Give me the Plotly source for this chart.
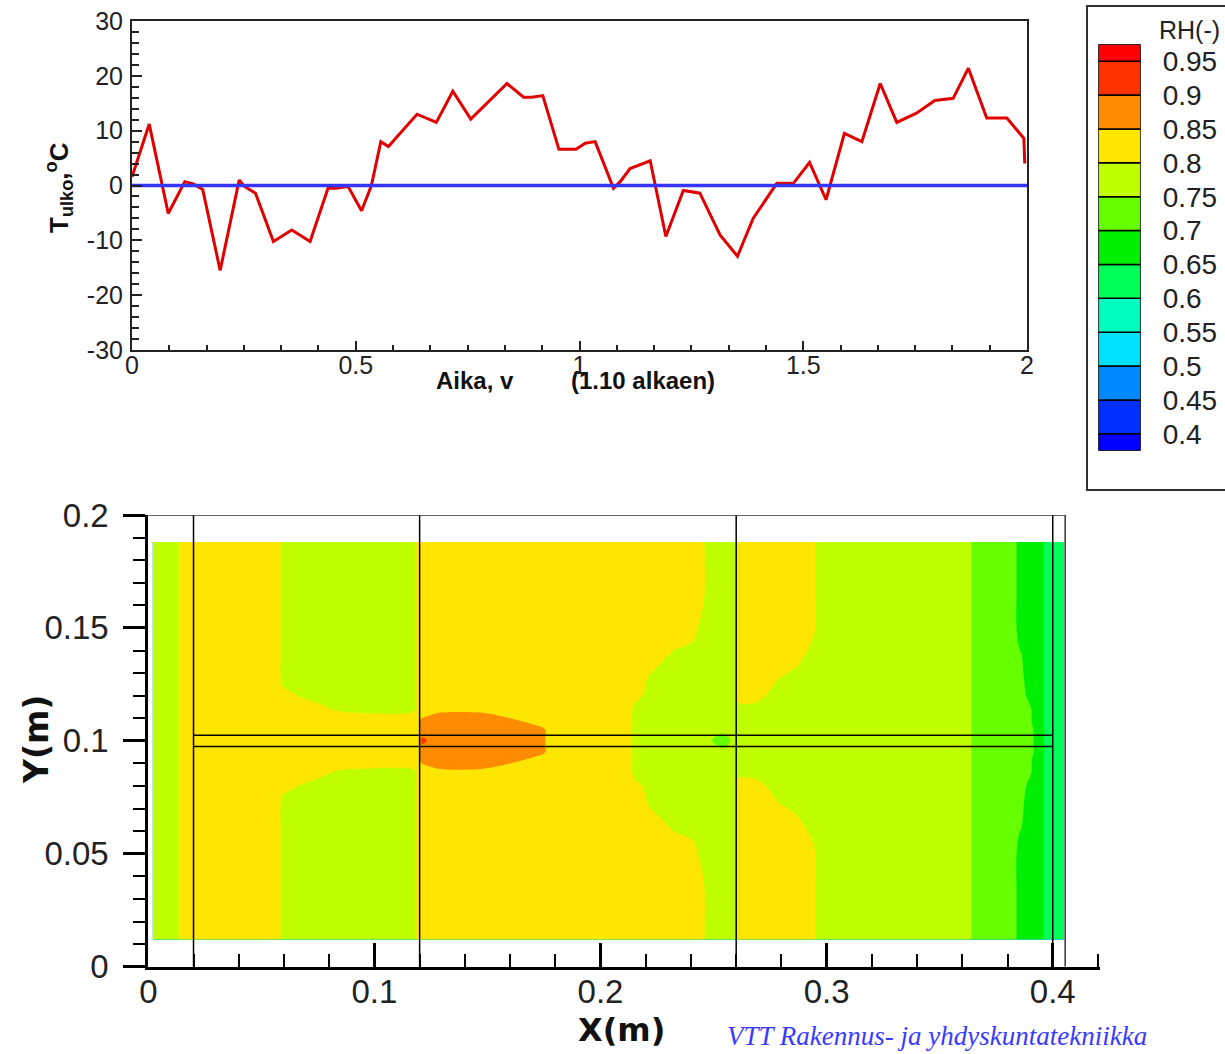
import plotly.graph_objects as go

W, H = 1225, 1054


def px(x):
    return x / W


def py(y):
    return 1 - y / H


# ---------------- Top chart: outdoor temperature ----------------
t_years = [0, 0.0385, 0.081, 0.118, 0.137, 0.158, 0.197, 0.2395, 0.252, 0.276,
           0.316, 0.357, 0.398, 0.438, 0.456, 0.483, 0.513, 0.535, 0.556, 0.573,
           0.637, 0.680, 0.717, 0.757, 0.838, 0.875, 0.894, 0.918, 0.954, 0.992,
           1.013, 1.035, 1.076, 1.091, 1.113, 1.158, 1.193, 1.232, 1.269, 1.314,
           1.353, 1.388, 1.441, 1.478, 1.514, 1.551, 1.592, 1.631, 1.672, 1.709,
           1.753, 1.794, 1.835, 1.869, 1.910, 1.955, 1.993, 1.995]
T_out = [1.6, 11.2, -5.1, 0.7, 0.3, -0.7, -15.5, 1.0, -0.2, -1.4,
         -10.2, -8.1, -10.2, -0.5, -0.5, -0.2, -4.6, 0.0, 8.0, 7.1,
         13.0, 11.5, 17.2, 12.1, 18.6, 16.1, 16.1, 16.4, 6.6, 6.6,
         7.7, 8.0, -0.5, 0.7, 3.1, 4.5, -9.3, -0.9, -1.4, -9.0,
         -12.9, -6.0, 0.4, 0.4, 4.2, -2.6, 9.5, 8.0, 18.6, 11.5,
         13.2, 15.5, 15.9, 21.4, 12.3, 12.3, 8.6, 4.0]
zero_t = [0, 2]
zero_T = [0, 0]
temp_ticks = [-30, -20, -10, 0, 10, 20, 30]
temp_labels = ["-30", "-20", "-10", "0", "10", "20", "30"]
time_ticks = [0, 0.5, 1, 1.5, 2]
time_labels = ["0", "0.5", "1", "1.5", "2"]

# ---------------- Bottom chart: RH field ----------------
x_nodes = [0.002, 0.0125, 0.0145, 0.0575, 0.0595, 0.064, 0.075, 0.09, 0.117, 0.119,
           0.121, 0.129, 0.147, 0.16, 0.172, 0.179, 0.213, 0.215, 0.222, 0.232,
           0.241, 0.245, 0.247, 0.254, 0.259, 0.261, 0.268, 0.278, 0.287, 0.2935,
           0.2965, 0.363, 0.365, 0.383, 0.385, 0.3895, 0.3935, 0.395, 0.397, 0.405]
y_nodes = [0.012, 0.035, 0.05, 0.062, 0.072, 0.08, 0.0865, 0.0885, 0.0915, 0.095,
           0.1, 0.105, 0.1085, 0.1115, 0.1135, 0.12, 0.128, 0.138, 0.15, 0.165, 0.188]
# one character per node (RH band)
rh_rows = [
    "GGYYGGGGGYYYYYYYYYYYYYGGGYYYYYGGLLMMMMNN",  # 0.012
    "GGYYGGGGGYYYYYYYYYYYYYGGGYYYYYGGLLMMMMNN",  # 0.035
    "GGYYGGGGGYYYYYYYYYYYYGGGGYYYYYGGLLMMMMNN",  # 0.05
    "GGYYGGGGGYYYYYYYYYYgGGGGGYYYYGGGLLaMMMNN",  # 0.062
    "GGYYGGGGGYYYYYYYYYgGGGGGGYYyGGGGLLLMMMNN",  # 0.072
    "GGYYYyGGGYYYYYYYYYGGGGGGGYYGGGGGLLLbMMNN",  # 0.08
    "GGYYYYYGGYYYYYYYYGGGGGGGGGGGGGGGLLLaMMNN",  # 0.0865
    "GGYYYYYYYYYOOYYYYGGGGGGGGGGGGGGGLLLaMMNN",  # 0.0885
    "GGYYYYYYYYOOOOYYYGGGGGGGGGGGGGGGLLLaMMNN",  # 0.0915
    "GGYYYYYYYYOOOOOYYGGGGGGGGGGGGGGGLLLLMMNN",  # 0.095
    "GGYYYYYYYYrOOOOYYGGGGGGlGGGGGGGGLLLLMMNN",  # 0.1
    "GGYYYYYYYYOOOOOYYGGGGGGGGGGGGGGGLLLLMMNN",  # 0.105
    "GGYYYYYYYYOOOOYYYGGGGGGGGGGGGGGGLLLaMMNN",  # 0.1085
    "GGYYYYYYYYYOOYYYYGGGGGGGGGGGGGGGLLLaMMNN",  # 0.1115
    "GGYYYYYGGYYYYYYYYGGGGGGGGGGGGGGGLLLaMMNN",  # 0.1135
    "GGYYYyGGGYYYYYYYYYGGGGGGGYYGGGGGLLLbMMNN",  # 0.12
    "GGYYGGGGGYYYYYYYYYgGGGGGGYYyGGGGLLLMMMNN",  # 0.128
    "GGYYGGGGGYYYYYYYYYYgGGGGGYYYYGGGLLaMMMNN",  # 0.138
    "GGYYGGGGGYYYYYYYYYYYYGGGGYYYYYGGLLMMMMNN",  # 0.15
    "GGYYGGGGGYYYYYYYYYYYYYGGGYYYYYGGLLMMMMNN",  # 0.165
    "GGYYGGGGGYYYYYYYYYYYYYGGGYYYYYGGLLMMMMNN",  # 0.188
]
band_value = {"r": 0.91, "O": 0.875, "Y": 0.825, "y": 0.805, "g": 0.795, "G": 0.775,
              "L": 0.725, "a": 0.71, "l": 0.701, "b": 0.69, "M": 0.675, "N": 0.625}

levels = [0.4, 0.45, 0.5, 0.55, 0.6, 0.65, 0.7, 0.75, 0.8, 0.85, 0.9, 0.95]
level_labels = ["0.4", "0.45", "0.5", "0.55", "0.6", "0.65", "0.7",
                "0.75", "0.8", "0.85", "0.9", "0.95"]
band_edges = [0.375, 0.4, 0.45, 0.5, 0.55, 0.6, 0.65, 0.7, 0.75, 0.8,
              0.85, 0.9, 0.95, 0.975]
band_colors = ["#0000ff", "#0030ff", "#0088ff", "#00e0ff", "#00ffbf", "#00ff55",
               "#00ee00", "#66ff00", "#bfff00", "#ffe600", "#ff8c00", "#ff3300",
               "#ff0000"]

layer_x = [0.02, 0.12, 0.26, 0.40]
membrane_y = [0.0975, 0.1025]
membrane_x = [0.02, 0.40]
frame_x = 0.4055
frame_y = 0.2

rh = [[band_value[c] for c in row] for row in rh_rows]
colorscale = [[k / (len(band_colors) - 1), c] for k, c in enumerate(band_colors)]

fig = go.Figure()

fig.add_trace(go.Scatter(x=t_years, y=T_out, mode="lines",
                         line=dict(color="#e00000", width=3),
                         xaxis="x", yaxis="y", showlegend=False, hoverinfo="skip"))
fig.add_trace(go.Scatter(x=zero_t, y=zero_T, mode="lines",
                         line=dict(color="#3535ff", width=3.5),
                         xaxis="x", yaxis="y", showlegend=False, hoverinfo="skip"))

fig.add_trace(go.Contour(x=x_nodes, y=y_nodes, z=rh, xaxis="x2", yaxis="y2",
                         colorscale=colorscale, autocontour=False,
                         contours=dict(start=levels[0], end=levels[-1], size=0.05,
                                       coloring="fill", showlines=False),
                         line=dict(width=0, smoothing=1),
                         showscale=False, hoverinfo="skip"))

heights = [band_edges[i + 1] - band_edges[i] for i in range(len(band_edges) - 1)]
fig.add_trace(go.Bar(x=[0] * len(heights), y=heights, base=band_edges[:-1], width=1,
                     marker=dict(color=band_colors, line=dict(color="black", width=1.5)),
                     xaxis="x3", yaxis="y3", showlegend=False, hoverinfo="skip"))

tick_font_top = dict(family="Liberation Sans, Arial, sans-serif", size=25, color="#222")
tick_font_bot = dict(family="Liberation Sans, Arial, sans-serif", size=33, color="#222")

shapes = []
for xv in layer_x:
    shapes.append(dict(type="line", xref="x2", yref="y2", x0=xv, x1=xv, y0=0, y1=frame_y,
                       line=dict(color="black", width=1.5)))
for yv in membrane_y:
    shapes.append(dict(type="line", xref="x2", yref="y2", x0=membrane_x[0], x1=membrane_x[1],
                       y0=yv, y1=yv, line=dict(color="black", width=1.5)))
shapes.append(dict(type="line", xref="x2", yref="y2", x0=0, x1=frame_x, y0=frame_y, y1=frame_y,
                   line=dict(color="#333", width=1.5)))
shapes.append(dict(type="line", xref="x2", yref="y2", x0=frame_x, x1=frame_x, y0=0, y1=frame_y,
                   line=dict(color="#333", width=1.5)))
shapes.append(dict(type="rect", xref="paper", yref="paper", x0=px(1087), x1=px(1260),
                   y0=py(490), y1=py(6), line=dict(color="#333", width=2)))

annotations = [
    dict(text="<b>T<sub>ulko</sub>,<sup>o</sup>C</b>", x=px(59), y=py(188), xref="paper", yref="paper",
         showarrow=False, textangle=-90, xanchor="center", yanchor="middle",
         font=dict(family="Liberation Sans, Arial", size=26, color="#111")),
    dict(text="<b>Aika, v</b>", x=px(434), y=py(380), xref="paper", yref="paper",
         showarrow=False, xanchor="left", yanchor="middle",
         font=dict(family="Liberation Sans, Arial", size=24, color="#111")),
    dict(text="<b>(1.10 alkaen)</b>", x=px(569), y=py(380), xref="paper", yref="paper",
         showarrow=False, xanchor="left", yanchor="middle",
         font=dict(family="Liberation Sans, Arial", size=24, color="#111")),
    dict(text="<b>Y(m)</b>", x=px(37), y=py(740), xref="paper", yref="paper",
         showarrow=False, textangle=-90, xanchor="center", yanchor="middle",
         font=dict(family="DejaVu Sans, sans-serif", size=33, color="#111")),
    dict(text="<b>X(m)</b>", x=px(621), y=py(1030), xref="paper", yref="paper",
         showarrow=False, xanchor="center", yanchor="middle",
         font=dict(family="DejaVu Sans, sans-serif", size=32, color="#111")),
    dict(text="RH(-)", x=px(1157), y=py(30), xref="paper", yref="paper",
         showarrow=False, xanchor="left", yanchor="middle",
         font=dict(family="Liberation Sans, Arial", size=25, color="#222")),
    dict(text="<i>VTT Rakennus- ja yhdyskuntatekniikka</i>", x=px(725), y=py(1036),
         xref="paper", yref="paper", showarrow=False, xanchor="left", yanchor="middle",
         font=dict(family="Liberation Serif, Times New Roman, serif", size=27, color="#3a3aff")),
]

fig.update_layout(
    template="none",
    width=W, height=H, margin=dict(l=0, r=0, t=0, b=0, pad=0, autoexpand=False),
    paper_bgcolor="white", plot_bgcolor="white", showlegend=False,
    barmode="overlay",
    xaxis=dict(domain=[px(132), px(1027)], range=[0, 2], anchor="y", automargin=False,
               showline=True, mirror=True, linecolor="#222", linewidth=2,
               ticks="inside", ticklen=9, tickwidth=2, tickcolor="#222",
               tickvals=time_ticks, ticktext=time_labels,
               minor=dict(ticks="inside", ticklen=5, tickwidth=1.5, dtick=1 / 12, tick0=0,
                          tickcolor="#222", showgrid=False),
               showgrid=False, zeroline=False, tickfont=tick_font_top,
               ticklabelstandoff=-8),
    yaxis=dict(domain=[py(350), py(21)], range=[-30, 30], anchor="x", automargin=False,
               showline=True, mirror=True, linecolor="#222", linewidth=2,
               ticks="inside", ticklen=10, tickwidth=2, tickcolor="#222",
               tickvals=temp_ticks, ticktext=temp_labels,
               minor=dict(ticks="inside", ticklen=7, tickwidth=1.5, dtick=2, tick0=0,
                          tickcolor="#222", showgrid=False),
               showgrid=False, zeroline=False, tickfont=tick_font_top,
               ticklabelstandoff=2),
    xaxis2=dict(domain=[px(148.3), px(1100)], range=[0, 0.4209], anchor="y2", automargin=False,
                showline=True, linecolor="black", linewidth=3,
                ticks="inside", ticklen=24, tickwidth=3, tickcolor="black", dtick=0.1, tick0=0,
                minor=dict(ticks="inside", ticklen=13, tickwidth=2, dtick=0.02, tick0=0,
                           tickcolor="black", showgrid=False),
                showgrid=False, zeroline=False, tickfont=tick_font_bot,
                ticklabelstandoff=-6),
    yaxis2=dict(domain=[py(966.7), py(515)], range=[0, 0.2], anchor="x2", automargin=False,
                showline=True, linecolor="black", linewidth=3,
                ticks="outside", ticklen=22, tickwidth=3, tickcolor="black", dtick=0.05, tick0=0,
                minor=dict(ticks="outside", ticklen=12, tickwidth=2, dtick=0.01, tick0=0,
                           tickcolor="black", showgrid=False),
                showgrid=False, zeroline=False, tickfont=tick_font_bot,
                ticklabelstandoff=8),
    xaxis3=dict(domain=[px(1098.3), px(1140.7)], range=[-0.5, 0.5], anchor="y3",
                visible=False, fixedrange=True, automargin=False),
    yaxis3=dict(domain=[py(450.7), py(44.3)], range=[band_edges[0], band_edges[-1]],
                anchor="x3", side="right", tickvals=levels, ticktext=level_labels,
                ticks="", showline=False, showgrid=False, zeroline=False, automargin=False,
                tickfont=dict(family="Liberation Sans, Arial", size=28, color="#222"),
                ticklabelstandoff=21),
    shapes=shapes, annotations=annotations,
)

fig.write_html("out.html")
